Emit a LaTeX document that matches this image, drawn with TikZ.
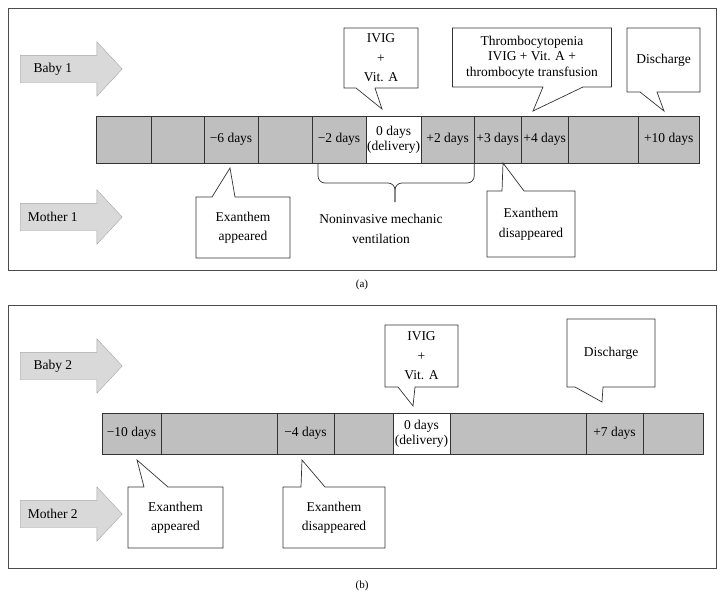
\documentclass[tikz,border=0pt]{standalone}
\usepackage{fontspec}
\setmainfont{Liberation Serif}
\usetikzlibrary{positioning,calc,shapes.arrows}

\definecolor{cellgray}{RGB}{191,191,191}
\definecolor{arrowgray}{RGB}{217,217,217}

\tikzset{
  cell/.style={draw=black!80,fill=cellgray,minimum height=47pt,inner sep=1pt,
    outer sep=0pt,align=center,font=\fontsize{13.5}{15}\selectfont},
  person/.style={single arrow,draw=black!35,fill=arrowgray,minimum height=102pt,
    minimum width=54pt,single arrow head extend=13.5pt,single arrow tip angle=94,
    inner sep=0pt,text height=13.5pt,text depth=13.5pt,anchor=tail},
  person text/.style={xshift=-12pt,font=\fontsize{13.5}{15}\selectfont},
  note/.style={fill=white,inner sep=1pt,outer sep=0pt,align=center,
    font=\fontsize{13.5}{19.5}\selectfont},
  speech line/.style={draw=black!80,line width=0.7pt},
  frame/.style={draw=black!70,line width=1pt}
}

% box with its pointer below: node, base left, base right, tip
\newcommand{\speech}[4]{%
  \draw[speech line] (#1.south west) |- (#1.north east)
    |- ($(#1.south west)+(#3,0)$) -- (#4) -- ($(#1.south west)+(#2,0)$) -- cycle;}
% box with its pointer above
\newcommand{\speechup}[4]{%
  \draw[speech line] (#1.north east) |- (#1.south west)
    |- ($(#1.north west)+(#2,0)$) -- (#4) -- ($(#1.north west)+(#3,0)$) -- cycle;}

\begin{document}
\begin{tikzpicture}[x=1pt,y=-1pt]
  \useasboundingbox (0,0) rectangle (725,600);

  % panel (a)
  \draw[frame] (8,8) rectangle (716,270);
  \node (capA) at (362,285) {\fontsize{11}{13}\selectfont(a)};

  \node[person,label={[person text]center:Baby 1}] (baby1) at (20,69) {};
  \node[person,label={[person text]center:Mother 1}] (mother1) at (20,217) {};

  \node[cell,minimum width=55pt] (a1) at (123.5,139.5) {};
  \node[cell,minimum width=53pt,right=0pt of a1] (a2) {};
  \node[cell,minimum width=54pt,right=0pt of a2] (a3) {−6 days};
  \node[cell,minimum width=54pt,right=0pt of a3] (a4) {};
  \node[cell,minimum width=54pt,right=0pt of a4] (a5) {−2 days};
  \node[cell,minimum width=55pt,fill=white,right=0pt of a5] (a6) {0 days\\(delivery)};
  \node[cell,minimum width=53pt,right=0pt of a6] (a7) {+2 days};
  \node[cell,minimum width=47pt,right=0pt of a7] (a8) {+3 days};
  \node[cell,minimum width=47pt,right=0pt of a8] (a9) {+4 days};
  \node[cell,minimum width=70pt,right=0pt of a9] (a10) {};
  \node[cell,minimum width=61pt,right=0pt of a10] (a11) {+10 days};

  \node[note,minimum width=74pt,minimum height=60pt] (ivigA) at (381,58) {IVIG\\+\\Vit. A};
  \node[note,minimum width=159pt,minimum height=59pt,font=\fontsize{13.5}{15.5}\selectfont]
    (thrA) at (532,57.5) {Thrombocytopenia\\IVIG + Vit. A +\\thrombocyte transfusion};
  \node[note,minimum width=73pt,minimum height=64pt] (dischA) at (663.5,60) {Discharge};
  \node[note,minimum width=94pt,minimum height=61pt] (exA) at (243,227.5) {Exanthem\\appeared};
  \node[note,minimum width=88pt,minimum height=66pt] (disA) at (531,224) {Exanthem\\disappeared};

  \coordinate (ivigAtip) at (382,109);
  \coordinate (thrAtip) at (533,111);
  \coordinate (dischAtip) at (664,111);
  \coordinate (exAtip) at (230,168);
  \coordinate (disAtip) at (503,163);

  \speech{ivigA}{12}{31}{ivigAtip}
  \speech{thrA}{90.5}{130.5}{thrAtip}
  \speech{dischA}{13}{30}{dischAtip}
  \speechup{exA}{16}{39}{exAtip}
  \speechup{disA}{15}{37}{disAtip}

  \coordinate (ventTip) at (395,202);
  \draw[speech line,rounded corners=7pt] ([xshift=6pt]a5.south west) -- ++(0,20) -| (ventTip);
  \draw[speech line,rounded corners=7pt] (a7.south east) -- ++(0,20) -| (ventTip);
  \node[note,fill=none] (vent) at (381,229) {Noninvasive mechanic\\ventilation};

  % panel (b)
  \draw[frame] (8,305) rectangle (716,568);
  \node (capB) at (362,586) {\fontsize{11}{13}\selectfont(b)};

  \node[person,label={[person text]center:Baby 2}] (baby2) at (20,366) {};
  \node[person,label={[person text]center:Mother 2}] (mother2) at (20,514) {};

  \node[cell,minimum height=41pt,minimum width=59pt] (b1) at (131.5,433.5) {−10 days};
  \node[cell,minimum height=41pt,minimum width=116pt,right=0pt of b1] (b2) {};
  \node[cell,minimum height=41pt,minimum width=57pt,right=0pt of b2] (b3) {−4 days};
  \node[cell,minimum height=41pt,minimum width=59pt,right=0pt of b3] (b4) {};
  \node[cell,minimum height=41pt,minimum width=57pt,fill=white,right=0pt of b4] (b5) {0 days\\(delivery)};
  \node[cell,minimum height=41pt,minimum width=136pt,right=0pt of b5] (b6) {};
  \node[cell,minimum height=41pt,minimum width=57pt,right=0pt of b6] (b7) {+7 days};
  \node[cell,minimum height=41pt,minimum width=60pt,right=0pt of b7] (b8) {};

  \node[note,minimum width=73pt,minimum height=62pt] (ivigB) at (421.5,356) {IVIG\\+\\Vit. A};
  \node[note,minimum width=88pt,minimum height=68pt] (dischB) at (611,353) {Discharge};
  \node[note,minimum width=95pt,minimum height=61pt] (exB) at (175.5,517.5) {Exanthem\\appeared};
  \node[note,minimum width=102pt,minimum height=61pt] (disB) at (334,517.5) {Exanthem\\disappeared};

  \coordinate (ivigBtip) at (413,406);
  \coordinate (dischBtip) at (602,402);
  \coordinate (exBtip) at (137,460);
  \coordinate (disBtip) at (302,460);

  \speech{ivigB}{13}{30}{ivigBtip}
  \speech{dischB}{8}{36}{dischBtip}
  \speechup{exB}{16}{40}{exBtip}
  \speechup{disB}{18}{42}{disBtip}
\end{tikzpicture}
\end{document}
